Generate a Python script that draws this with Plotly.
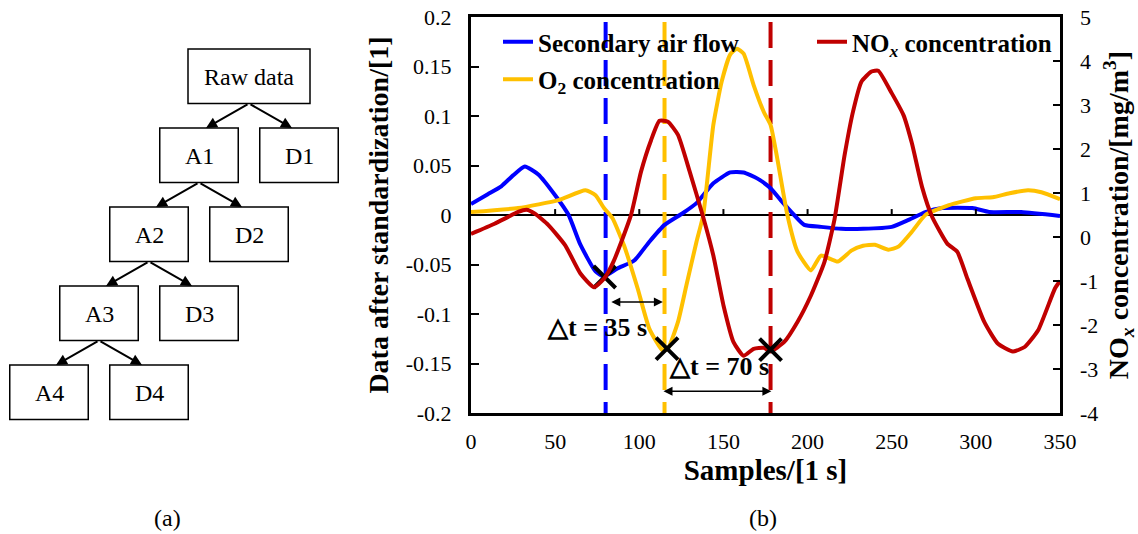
import plotly.graph_objects as go

# ---------------- data ----------------
samples_air = [0, 10, 18, 25, 32, 40, 50, 58, 65, 74, 79, 87, 97, 106, 115, 126, 134, 144, 154, 162,
               170, 178, 184, 192, 198, 208, 220, 233, 250, 260, 270, 280, 298, 308, 327, 350]
air_flow = [0.011, 0.021, 0.029, 0.040, 0.049, 0.041, 0.020, 0.0, -0.030, -0.057, -0.062, -0.054,
            -0.046, -0.027, -0.010, 0.002, 0.012, 0.032, 0.043, 0.043, 0.037, 0.027, 0.015, 0.0,
            -0.010, -0.012, -0.014, -0.014, -0.012, -0.005, 0.003, 0.007, 0.007, 0.003, 0.003, -0.001]

samples_o2 = [0, 28, 52, 68, 74, 79, 84, 91, 99, 106, 114, 117, 123, 128, 134, 138, 144, 149, 154, 158,
              162, 168, 174, 178, 182, 188, 194, 202, 208, 218, 226, 233, 240, 248, 254, 262, 270, 284,
              300, 310, 320, 331, 339, 350]
o2_conc = [0.003, 0.007, 0.015, 0.025, 0.020, 0.007, -0.003, -0.031, -0.074, -0.115, -0.137, -0.135,
           -0.108, -0.071, -0.027, 0.0, 0.091, 0.135, 0.162, 0.168, 0.163, 0.131, 0.104, 0.091, 0.057,
           0.0, -0.037, -0.056, -0.041, -0.047, -0.036, -0.031, -0.030, -0.035, -0.032, -0.017, 0.0,
           0.010, 0.017, 0.018, 0.022, 0.025, 0.023, 0.016]

samples_nox = [0, 14, 28, 33, 38, 46, 56, 65, 73, 79, 85, 95, 101, 107, 112, 117, 123, 130, 138, 144,
               150, 156, 162, 168, 174, 178, 186, 194, 202, 210, 216, 222, 227, 232, 238, 242, 250, 257,
               262, 268, 274, 283, 289, 295, 305, 313, 322, 329, 337, 347, 350]
nox_conc = [0.07, 0.30, 0.57, 0.62, 0.53, 0.27, -0.19, -0.83, -1.14, -0.95, -0.53, 0.49, 1.48, 2.20,
            2.64, 2.62, 2.32, 1.48, 0.45, -0.42, -1.55, -2.39, -2.70, -2.54, -2.52, -2.60, -2.39, -1.93,
            -1.33, -0.57, 0.40, 1.86, 2.85, 3.53, 3.76, 3.78, 3.27, 2.77, 2.13, 1.14, 0.46, -0.15, -0.34,
            -0.95, -1.93, -2.42, -2.60, -2.50, -2.12, -1.17, -1.0]

lag_samples = [80, 115, 178]             # vertical dashed markers
cross_samples = [79.4, 116.5]            # crosses on left-axis curves
cross_values = [-0.0626, -0.135]
cross_sample_nox = [178]
cross_value_nox = [-2.56]

delay_labels = ["\u25b3t = 35 s", "\u25b3t = 70 s"]

x_ticks = [0, 50, 100, 150, 200, 250, 300, 350]
left_ticks = [-0.2, -0.15, -0.1, -0.05, 0, 0.05, 0.1, 0.15, 0.2]
left_tick_text = ["-0.2", "-0.15", "-0.1", "-0.05", "0", "0.05", "0.1", "0.15", "0.2"]
right_ticks = [-4, -3, -2, -1, 0, 1, 2, 3, 4, 5]
right_tick_text = ["-4", "-3", "-2", "-1", "0", "1", "2", "3", "4", "5"]

tree_nodes = ["Raw data", "A1", "D1", "A2", "D2", "A3", "D3", "A4", "D4"]
tree_parent = [None, "Raw data", "Raw data", "A1", "A1", "A2", "A2", "A3", "A3"]

# ---------------- styling / layout ----------------
W, H = 1138, 534
FONT = "Liberation Serif, Times New Roman, serif"
BLUE, GOLD, RED = "#0000FF", "#FFC000", "#C00000"


def px(x):
    return x / W


def py(y):
    return 1 - y / H


fig = go.Figure()

# dashed vertical lag markers (below curves)
for s, c in zip(lag_samples, [BLUE, GOLD, RED]):
    fig.add_trace(go.Scatter(x=[s, s], y=[0.195, -0.2], mode="lines", showlegend=False,
                             line=dict(color=c, width=4, dash="26px,12px"), hoverinfo="skip"))

fig.add_trace(go.Scatter(x=samples_air, y=air_flow, mode="lines", name="<b>Secondary air flow</b>",
                         line=dict(color=BLUE, width=4, shape="spline", smoothing=0.5),
                         legend="legend", legendgroup="a"))
fig.add_trace(go.Scatter(x=samples_o2, y=o2_conc, mode="lines", name="<b>O<sub>2</sub> concentration</b>",
                         line=dict(color=GOLD, width=4, shape="spline", smoothing=0.5),
                         legend="legend", legendgroup="b"))
fig.add_trace(go.Scatter(x=samples_nox, y=nox_conc, mode="lines", yaxis="y2",
                         name="<b>NO<sub><i>x</i></sub> concentration</b>",
                         line=dict(color=RED, width=4, shape="spline", smoothing=0.5),
                         legend="legend2"))

fig.add_trace(go.Scatter(x=cross_samples, y=cross_values, mode="markers", showlegend=False,
                         marker=dict(symbol="x-thin", size=22, line=dict(color="black", width=4))))
fig.add_trace(go.Scatter(x=cross_sample_nox, y=cross_value_nox, mode="markers", yaxis="y2",
                         showlegend=False,
                         marker=dict(symbol="x-thin", size=22, line=dict(color="black", width=4))))

shapes = []
annotations = []

# tick marks on the zero line
for t in x_ticks[1:-1]:
    shapes.append(dict(type="line", xref="x", yref="y", x0=t, x1=t, y0=0, y1=0.006,
                       line=dict(color="black", width=2)))

# delay arrows and labels
arrow_y = [-0.088, -0.178]
arrow_span = [(82.5, 114), (113.5, 178.5)]
label_pos = [(75, -0.114), (147.5, -0.1535)]
for lab, ay, (a0, a1), (lx, ly) in zip(delay_labels, arrow_y, arrow_span, label_pos):
    annotations.append(dict(x=a1, y=ay, ax=a0, ay=ay, xref="x", yref="y", axref="x", ayref="y",
                            text="", showarrow=True, arrowside="end+start", arrowhead=2,
                            arrowsize=1.2, arrowwidth=1.5, arrowcolor="black", standoff=0,
                            startstandoff=0))
    annotations.append(dict(x=lx, y=ly, xref="x", yref="y", text="<b>" + lab + "</b>",
                            showarrow=False, font=dict(family=FONT, size=26, color="black")))

# tree diagram (panel a) on a hidden pixel-like axis
depth = {}
cx = {}
for n, p in zip(tree_nodes, tree_parent):
    if p is None:
        depth[n] = 0
        cx[n] = 249
    else:
        depth[n] = depth[p] + 1
        cx[n] = cx[p] + (-50 if n.startswith("A") else 50)
ROW_TOP, ROW_STEP, BOX_H = 49, 79, 54.5
for n, p in zip(tree_nodes, tree_parent):
    bw = 122 if p is None else 78.5
    top = ROW_TOP + ROW_STEP * depth[n]
    shapes.append(dict(type="rect", xref="x3", yref="y3", x0=cx[n] - bw / 2, x1=cx[n] + bw / 2,
                       y0=top, y1=top + BOX_H, line=dict(color="black", width=1.5)))
    annotations.append(dict(x=cx[n], y=top + BOX_H / 2 + 1, xref="x3", yref="y3", text=n,
                            showarrow=False, font=dict(family=FONT, size=24, color="black")))
    if p is not None:
        ptop = ROW_TOP + ROW_STEP * depth[p]
        ex = cx[n] + (cx[p] - cx[n]) * 0.14
        annotations.append(dict(x=ex, y=top, ax=cx[p], ay=ptop + BOX_H, xref="x3", yref="y3",
                                axref="x3", ayref="y3", text="", showarrow=True, arrowhead=2,
                                arrowsize=1.1, arrowwidth=2, arrowcolor="black", standoff=0))

# panel labels
for lab, lx in (("(a)", 167), ("(b)", 763)):
    annotations.append(dict(x=px(lx), y=py(518), xref="paper", yref="paper", text=lab, showarrow=False,
                            xanchor="center", yanchor="middle",
                            font=dict(family=FONT, size=24, color="black")))

tickfont = dict(family=FONT, size=22, color="black")
titlefont = dict(family=FONT, size=28, color="black")

fig.update_layout(
    width=W, height=H, margin=dict(l=0, r=0, t=0, b=0, autoexpand=False),
    paper_bgcolor="white", plot_bgcolor="white",
    font=dict(family=FONT, color="black"),
    showlegend=True,
    xaxis=dict(domain=[px(471), px(1060)], range=[0, 350], tickvals=x_ticks, ticks="",
               showline=True, mirror=True, linewidth=3, linecolor="black", showgrid=False,
               zeroline=False, tickfont=tickfont, ticklabelstandoff=7, automargin=False,
               title=dict(text="<b>Samples/[1 s]</b>", font=dict(family=FONT, size=29, color="black"),
                          standoff=4)),
    yaxis=dict(domain=[py(413), py(17)], range=[-0.2, 0.2], tickvals=left_ticks, ticktext=left_tick_text,
               ticks="inside", ticklen=8, tickwidth=2, tickcolor="black", showline=True, mirror=True,
               linewidth=3, linecolor="black", showgrid=False, zeroline=True, zerolinecolor="black",
               zerolinewidth=2, tickfont=tickfont, ticklabelstandoff=12, automargin=False,
               title=dict(text="<b>Data after standardization/[1]</b>", font=titlefont, standoff=9)),
    yaxis2=dict(overlaying="y", side="right", anchor="x", range=[-4, 5], tickvals=right_ticks,
                ticktext=right_tick_text, ticks="inside", ticklen=7, tickwidth=2, tickcolor="black",
                showline=False, showgrid=False, zeroline=False, tickfont=tickfont, ticklabelstandoff=19,
                automargin=False,
                title=dict(text="<b>NO<sub><i>x</i></sub> concentration/[mg/m<sup>3</sup>]</b>",
                           font=titlefont, standoff=16)),
    xaxis3=dict(domain=[0, px(340)], range=[0, 340], visible=False, anchor="y3", fixedrange=True),
    yaxis3=dict(domain=[0, 1], range=[H, 0], visible=False, anchor="x3", fixedrange=True),
    legend=dict(x=px(498), y=py(19), xanchor="left", yanchor="top", bgcolor="rgba(0,0,0,0)",
                font=dict(family=FONT, size=25, color="black"), tracegroupgap=2, itemwidth=30),
    legend2=dict(x=px(812), y=py(19), xanchor="left", yanchor="top", bgcolor="rgba(0,0,0,0)",
                 font=dict(family=FONT, size=25, color="black"), itemwidth=30),
    shapes=shapes, annotations=annotations,
)

fig.write_html("out.html")
